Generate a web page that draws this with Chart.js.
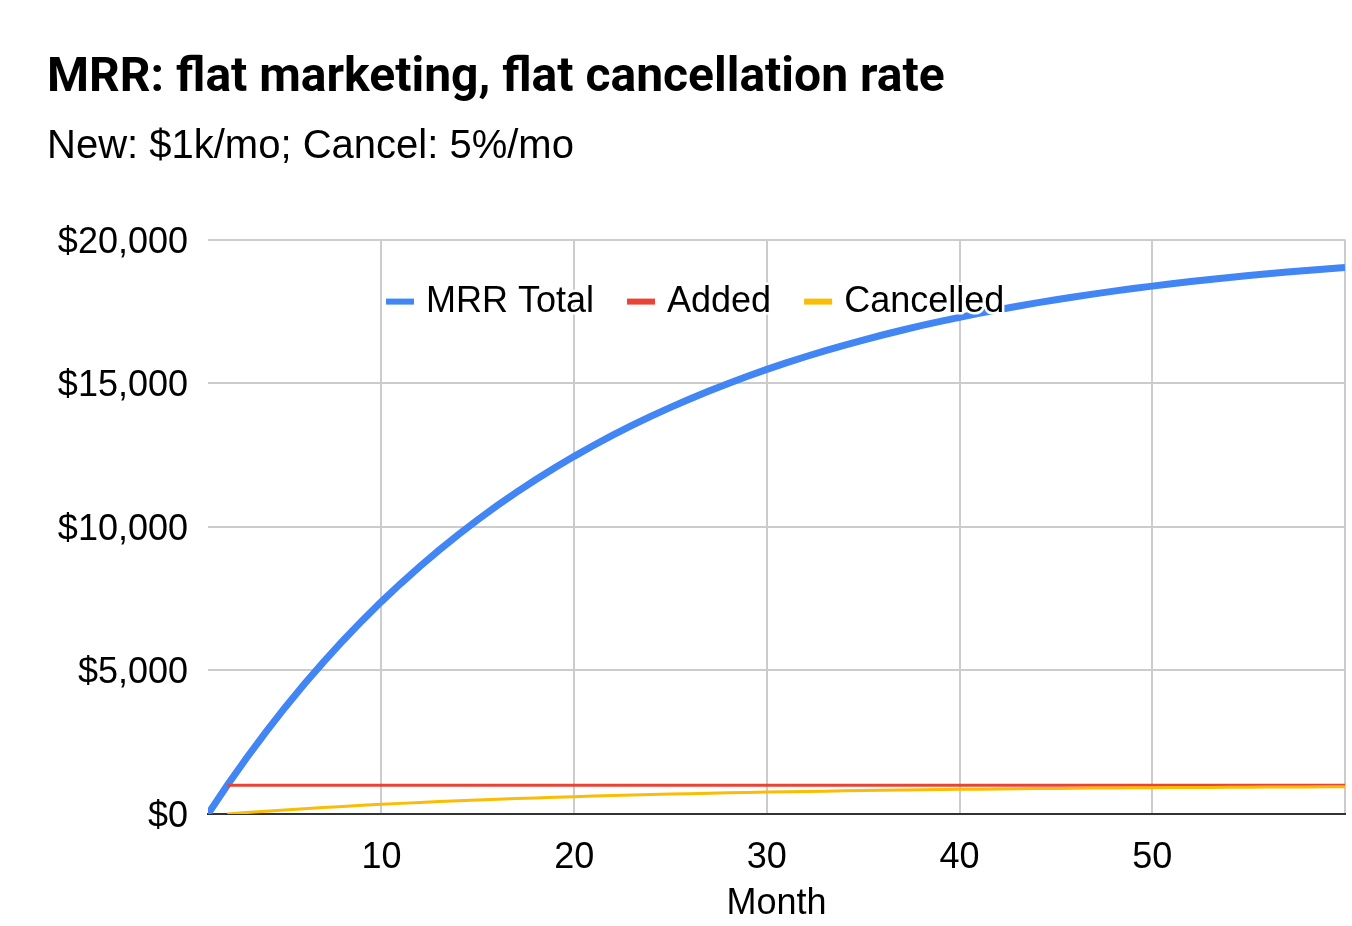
<!DOCTYPE html>
<html>
<head>
<meta charset="utf-8">
<script src="https://cdn.jsdelivr.net/npm/chart.js@4"></script>
<style>
  html, body { margin: 0; padding: 0; background: #fff; }
  canvas { display: block; }
</style>
</head>
<body>
<canvas id="chart" width="1352" height="926"></canvas>
<script>
// MRR model
const months = [
  1, 2, 3, 4, 5, 6, 7, 8, 9, 10, 11, 12, 13, 14, 15, 16, 17, 18, 19, 20,
  21, 22, 23, 24, 25, 26, 27, 28, 29, 30, 31, 32, 33, 34, 35, 36, 37, 38, 39, 40,
  41, 42, 43, 44, 45, 46, 47, 48, 49, 50, 51, 52, 53, 54, 55, 56, 57, 58, 59, 60,
];
const mrrTotal = [
  0, 1000, 1950, 2853, 3710, 4524, 5298, 6033, 6732, 7395,
  8025, 8624, 9193, 9733, 10247, 10734, 11197, 11638, 12056, 12453,
  12830, 13189, 13529, 13853, 14160, 14452, 14730, 14993, 15243, 15481,
  15707, 15922, 16126, 16319, 16503, 16678, 16844, 17002, 17152, 17294,
  17430, 17558, 17680, 17796, 17907, 18011, 18111, 18205, 18295, 18380,
  18461, 18538, 18611, 18681, 18747, 18809, 18869, 18925, 18979, 19030,
];
const added = [
  null, 1000, 1000, 1000, 1000, 1000, 1000, 1000, 1000, 1000,
  1000, 1000, 1000, 1000, 1000, 1000, 1000, 1000, 1000, 1000,
  1000, 1000, 1000, 1000, 1000, 1000, 1000, 1000, 1000, 1000,
  1000, 1000, 1000, 1000, 1000, 1000, 1000, 1000, 1000, 1000,
  1000, 1000, 1000, 1000, 1000, 1000, 1000, 1000, 1000, 1000,
  1000, 1000, 1000, 1000, 1000, 1000, 1000, 1000, 1000, 1000,
];
const cancelled = [
  null, 0, 50, 98, 143, 186, 226, 265, 302, 337,
  370, 401, 431, 460, 487, 512, 537, 560, 582, 603,
  623, 642, 659, 676, 693, 708, 723, 736, 750, 762,
  774, 785, 796, 806, 816, 825, 834, 842, 850, 858,
  865, 871, 878, 884, 890, 895, 901, 906, 910, 915,
  919, 923, 927, 931, 934, 937, 940, 943, 946, 949,
];
const seriesNames = ['MRR Total', 'Added', 'Cancelled'];
const xTickValues = [10, 20, 30, 40, 50, 60];
const xTickLabels = ['10', '20', '30', '40', '50', ''];
const yTickValues = [0, 5000, 10000, 15000, 20000];
const yTickLabels = ['$0', '$5,000', '$10,000', '$15,000', '$20,000'];

const COLORS = {
  blue: '#4285f4',
  red: '#ea4335',
  yellow: '#fbbc04',
  grid: '#cccccc',
  axis: '#333333',
  text: '#000000',
};
const SANS = '"Liberation Sans", Arial, sans-serif';

function points(values) {
  return months.map((m, i) => ({ x: m, y: values[i] }));
}

// legend sits inside the plot area, like the original
const innerLegend = {
  id: 'innerLegend',
  afterDatasetsDraw(chart) {
    const ctx = chart.ctx;
    const area = chart.chartArea;
    let x = area.left + 178;
    const y = area.top + 62;
    ctx.save();
    ctx.font = '36px ' + SANS;
    ctx.textBaseline = 'middle';
    ctx.lineJoin = 'round';
    chart.data.datasets.forEach((ds) => {
      ctx.fillStyle = ds.borderColor;
      ctx.fillRect(x, y - 3, 28, 6);
      x += 40;
      ctx.strokeStyle = '#fff';
      ctx.lineWidth = 5;
      ctx.strokeText(ds.label, x, y);
      ctx.fillStyle = COLORS.text;
      ctx.fillText(ds.label, x, y);
      x += ctx.measureText(ds.label).width + 33;
    });
    ctx.restore();
  },
};

new Chart(document.getElementById('chart'), {
  type: 'line',
  data: {
    datasets: [
      { label: seriesNames[0], data: points(mrrTotal), borderColor: COLORS.blue, borderWidth: 7, order: 3 },
      { label: seriesNames[1], data: points(added), borderColor: COLORS.red, borderWidth: 3, order: 2 },
      { label: seriesNames[2], data: points(cancelled), borderColor: COLORS.yellow, borderWidth: 3, order: 1 },
    ],
  },
  plugins: [innerLegend],
  options: {
    responsive: false,
    animation: false,
    spanGaps: false,
    layout: { padding: { left: 47, right: 7, top: 0, bottom: 4 } },
    elements: {
      point: { radius: 0 },
      line: { tension: 0, borderCapStyle: 'butt', fill: false },
    },
    plugins: {
      legend: { display: false },
      tooltip: { enabled: false },
      title: {
        display: true,
        text: 'MRR: flat marketing, flat cancellation rate',
        align: 'start',
        color: COLORS.text,
        font: { family: 'Roboto, sans-serif', size: 48, weight: 'bold' },
        padding: { top: 50, bottom: 15 },
      },
      subtitle: {
        display: true,
        text: 'New: $1k/mo; Cancel: 5%/mo',
        align: 'start',
        color: COLORS.text,
        font: { family: SANS, size: 40 },
        padding: { top: 0, bottom: 69 },
      },
    },
    scales: {
      x: {
        type: 'linear',
        min: 1,
        max: 60,
        afterBuildTicks: (scale) => { scale.ticks = xTickValues.map((v) => ({ value: v })); },
        // the unlabelled last tick should not push the plot in from the right
        afterFit: (scale) => { scale.paddingRight = 0; },
        ticks: {
          autoSkip: false,
          maxRotation: 0,
          padding: 26,
          color: COLORS.text,
          font: { family: SANS, size: 36, lineHeight: 1 },
          callback: (v) => xTickLabels[xTickValues.indexOf(v)],
        },
        grid: { color: COLORS.grid, lineWidth: 2, drawTicks: false },
        border: { display: true, color: COLORS.axis, width: 2 },
        title: {
          display: true,
          text: 'Month',
          color: COLORS.text,
          font: { family: SANS, size: 36, lineHeight: 1 },
          padding: { top: -16, bottom: 0 },
        },
      },
      y: {
        min: 0,
        max: 20000,
        afterBuildTicks: (scale) => { scale.ticks = yTickValues.map((v) => ({ value: v })); },
        afterFit: (scale) => { scale.width = 161; },
        ticks: {
          padding: 20,
          labelOffset: 3,
          color: COLORS.text,
          font: { family: SANS, size: 36 },
          callback: (v) => yTickLabels[yTickValues.indexOf(v)],
        },
        grid: {
          color: (c) => (c.tick && c.tick.value === 0 ? 'rgba(0,0,0,0)' : COLORS.grid),
          lineWidth: 2,
          drawTicks: false,
        },
        border: { display: false },
      },
    },
  },
});
</script>
</body>
</html>
